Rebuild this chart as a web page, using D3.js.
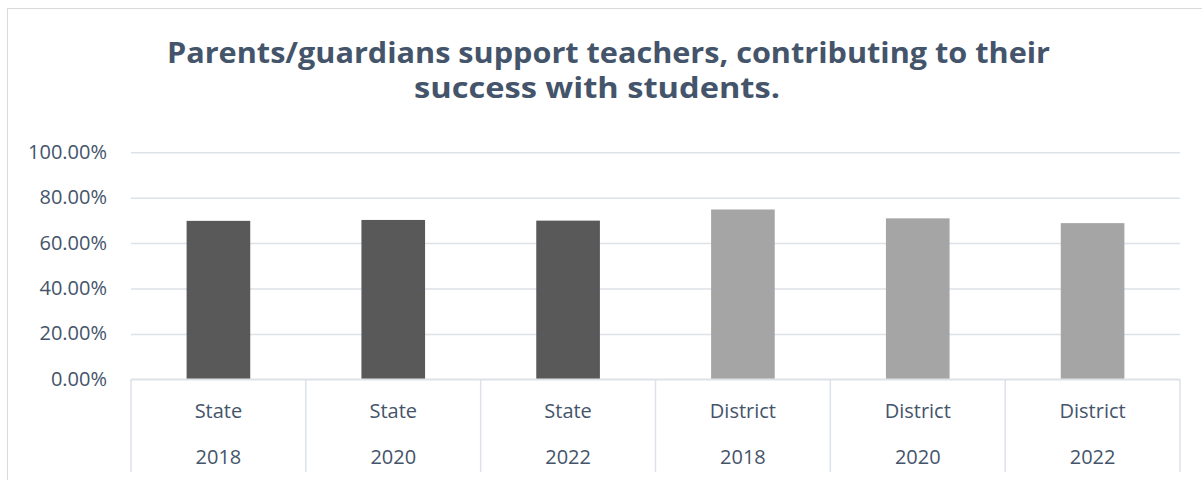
<!DOCTYPE html>
<html>
<head>
<meta charset="utf-8">
<script src="https://cdn.jsdelivr.net/npm/d3@7"></script>
<style>
  html, body { margin: 0; padding: 0; background: #fff; }
  svg { display: block; }
</style>
</head>
<body>
<svg id="chart" width="1202" height="480"></svg>
<script>
// Survey result by respondent group and year
const groups = ["State", "State", "State", "District", "District", "District"];
const years = ["2018", "2020", "2022", "2018", "2020", "2022"];
const values = [0.698, 0.702, 0.699, 0.748, 0.709, 0.688];
const yTicks = [0, 0.2, 0.4, 0.6, 0.8, 1.0];
const titleLines = ["Parents/guardians support teachers, contributing to their", "success with students."];

const svg = d3.select("#chart");
const textColor = "#44546A";
const gridColor = "#dde2e9";
const font = "'Open Sans', 'Liberation Sans', sans-serif";

// chart frame
svg.append("rect")
  .attr("x", 7.5).attr("y", 8.5)
  .attr("width", 1210).attr("height", 480)
  .attr("fill", "#fff")
  .attr("stroke", "#d9d9d9").attr("stroke-width", 1);

// title, two centred lines
const titleSpec = [
  { x: 167, y: 63, len: 883 },
  { x: 414, y: 98, len: 366 }
];
svg.append("g").selectAll("text")
  .data(titleLines)
  .join("text")
  .attr("x", (d, i) => titleSpec[i].x)
  .attr("y", (d, i) => titleSpec[i].y)
  .attr("textLength", (d, i) => titleSpec[i].len)
  .attr("lengthAdjust", "spacingAndGlyphs")
  .attr("font-family", font)
  .attr("font-weight", 700)
  .attr("font-size", 28)
  .attr("fill", textColor)
  .text(d => d);

const plotLeft = 131, plotRight = 1180, plotTop = 152.3, plotBottom = 379.3;
const keys = groups.map((g, i) => i);

const x = d3.scaleBand()
  .domain(keys)
  .range([plotLeft, plotRight])
  .paddingInner(0.636)
  .paddingOuter(0.318);

// category slots (no padding) for the axis separators and labels
const slot = d3.scaleBand().domain(keys).range([plotLeft, plotRight]).padding(0);

const y = d3.scaleLinear().domain([0, 1]).range([plotBottom, plotTop]);

// gridlines + value axis labels
const yAxis = d3.axisLeft(y)
  .tickValues(yTicks)
  .tickFormat(d3.format(".2%"))
  .tickSize(-(plotRight - plotLeft))
  .tickPadding(24);

const gy = svg.append("g")
  .attr("transform", `translate(${plotLeft},0)`)
  .call(yAxis);
gy.select(".domain").remove();
gy.selectAll(".tick line")
  .attr("stroke", gridColor)
  .attr("stroke-width", 1.5);
gy.selectAll(".tick text")
  .attr("font-family", font)
  .attr("font-size", 20)
  .attr("fill", textColor)
  .attr("dy", "0.3em");

// bars
svg.append("g").selectAll("rect")
  .data(values)
  .join("rect")
  .attr("x", (d, i) => x(i))
  .attr("width", x.bandwidth())
  .attr("y", d => y(d))
  .attr("height", d => y(0) - y(d))
  .attr("fill", (d, i) => groups[i] === "State" ? "#595959" : "#a5a5a5");

// category axis: baseline and slot separators
const axisG = svg.append("g");
axisG.append("line")
  .attr("x1", plotLeft).attr("x2", plotRight)
  .attr("y1", plotBottom).attr("y2", plotBottom)
  .attr("stroke", gridColor).attr("stroke-width", 1.5);

const edges = keys.map(k => slot(k)).concat([plotRight]);
axisG.selectAll("line.sep")
  .data(edges)
  .join("line")
  .attr("class", "sep")
  .attr("x1", d => d).attr("x2", d => d)
  .attr("y1", plotBottom).attr("y2", 472)
  .attr("stroke", gridColor).attr("stroke-width", 1.5);

axisG.selectAll("text.grp")
  .data(groups)
  .join("text")
  .attr("class", "grp")
  .attr("x", (d, i) => slot(i) + slot.bandwidth() / 2)
  .attr("y", 418)
  .attr("text-anchor", "middle")
  .attr("font-family", font)
  .attr("font-size", 20)
  .attr("fill", textColor)
  .text(d => d);

axisG.selectAll("text.yr")
  .data(years)
  .join("text")
  .attr("class", "yr")
  .attr("x", (d, i) => slot(i) + slot.bandwidth() / 2)
  .attr("y", 464)
  .attr("text-anchor", "middle")
  .attr("font-family", font)
  .attr("font-size", 20)
  .attr("fill", textColor)
  .text(d => d);
</script>
</body>
</html>
